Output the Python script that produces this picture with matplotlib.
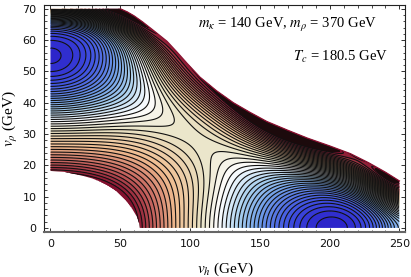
import numpy as np
import matplotlib
matplotlib.use("Agg")
import matplotlib.pyplot as plt
from matplotlib.colors import LinearSegmentedColormap
from matplotlib.patches import Polygon
from matplotlib.path import Path
from matplotlib.ticker import MultipleLocator

# Field values: contour-level index at each node (counted rings)
vh_nodes = [0, 25, 50, 75, 87.5, 100, 112.5, 125, 150, 175, 200, 225, 250]
vr_nodes = [0, 5, 10, 15, 20, 25, 30, 35, 40, 45, 50, 55, 60, 65, 70]
level_table = [
    [75, 62, 47, 38.8, 32.5, 28.5, 24, 20, 12, 3.7, 0, 3.8, 13.5],
    [65, 57, 45, 38, 32.3, 28.4, 24.1, 20.8, 13, 5.5, 2, 5.3, 20],
    [55, 50, 41.5, 37, 32, 28.2, 24.3, 22, 15, 9.5, 8, 13.5, 32],
    [47, 43.5, 39, 35, 31.5, 27.8, 24.6, 23, 18, 15, 15, 28, 42],
    [39.5, 38.5, 35.5, 32.5, 30.2, 27.3, 25, 24, 21, 24, 32, 40, 85],
    [33, 32.5, 31, 29.5, 28.3, 26.8, 25.9, 25.2, 26, 36, 42, 85, 110],
    [27.3, 27.3, 27.2, 26.2, 26.3, 26.6, 27.2, 27.1, 38, 60, 85, 110, 135],
    [21, 21, 23, 23.6, 25, 27.2, 30, 33, 62, 85, 110, 135, 160],
    [13, 13.5, 17.5, 22, 26, 30.5, 38, 39, 85, 110, 135, 160, 185],
    [6.5, 8.5, 13.5, 23.5, 31, 36, 41, 68, 105, 130, 155, 180, 205],
    [2.3, 5.5, 13, 27, 36, 41, 75, 90, 125, 150, 175, 200, 225],
    [0, 4.3, 12.5, 33, 37, 75, 95, 110, 145, 170, 195, 220, 245],
    [2.3, 6.5, 16, 38, 72, 95, 115, 130, 165, 190, 215, 240, 265],
    [9, 13, 33, 75, 95, 115, 135, 150, 185, 210, 235, 260, 285],
    [32, 38, 42, 100, 120, 135, 155, 170, 205, 230, 255, 280, 305],
]
# Edges of the coloured region
lower_vh = [0, 10, 23.5, 30, 35, 40, 43, 47, 50, 53, 55, 58, 60, 62, 63.5, 64]
lower_vr = [18.2, 17.9, 16.6, 15.8, 14.9, 13.8, 13, 11.8, 10.5, 9.2, 8.3, 6.5, 5, 3.5, 1.5, 0]
upper_vh = [250, 240, 228, 215, 200, 184, 170, 155, 143, 131, 119, 107, 98, 91, 83.5, 74, 66, 60, 55, 50, 0]
upper_vr = [15, 17.8, 20.8, 23.7, 26.2, 28.7, 31.2, 34, 36.9, 40, 43.8, 48.2, 52.5, 56, 59.6, 63, 65.8, 67.7, 69, 70, 70]
vmax_level = 42.5
level_colors = [(0, "#2a20c8"), (5, "#3f50e0"), (12, "#6f9ee8"), (17, "#a9d0ee"), (22, "#ffffff"),
                (26, "#e8e2c4"), (32, "#f0bc90"), (38, "#c05a58"), (42.5, "#82102e")]

plt.rcParams["mathtext.fontset"] = "stix"
fig = plt.figure(figsize=(4.11, 2.77), dpi=100)
ax = fig.add_axes([43.5 / 411, 1 - 232 / 277, (405 - 43.5) / 411, (232 - 5) / 277])

poly = list(zip(lower_vh, lower_vr)) + [(250, 0)] + list(zip(upper_vh, upper_vr))
xn, yn = np.meshgrid(vh_nodes, vr_nodes)
inside = Path(poly).contains_points(np.column_stack([xn.ravel(), yn.ravel()]), radius=0.01)
table = np.array(level_table, float)
edge_x = np.array(lower_vh + upper_vh[:-1], float)
edge_y = np.array(lower_vr + upper_vr[:-1], float)
px = np.concatenate([xn.ravel()[inside], edge_x])
py = np.concatenate([yn.ravel()[inside], edge_y])
pz = np.concatenate([table.ravel()[inside], np.full(edge_x.size, vmax_level)])
weight = np.where(pz < 5, 4.0, 1.0) * np.where((px >= 225) & (pz < 40), 3.0, 1.0)


def basis(x, y, order=7):
    u, v = (np.asarray(x) / 250.0) ** 2, (np.asarray(y) / 70.0) ** 2
    return np.stack([u ** i * v ** j for i in range(order + 1) for j in range(order + 1 - i)], axis=-1)


# smooth even surface through the values
coef, *_ = np.linalg.lstsq(basis(px, py) * weight[:, None], pz * weight, rcond=None)
xf, yf = np.meshgrid(np.linspace(0, 250, 751), np.linspace(0, 70, 421))
Z = np.clip(basis(xf, yf) @ coef, -2, 90)

cmap = LinearSegmentedColormap.from_list("v", [(p / vmax_level, c) for p, c in level_colors])
clip = Polygon(poly, closed=True, transform=ax.transData, fc="none", ec="none", lw=0, zorder=4)
ax.add_patch(clip)
# dense upper-right rim: lines keep going up to the edge and read as near-black
rim = Polygon(list(zip(upper_vh, upper_vr)) + [(0, 62), (50, 60), (150, 20), (250, 3)], closed=True,
              transform=ax.transData, fc="none", ec="none")
ax.add_patch(rim)

cf = ax.contourf(xf, yf, Z, levels=np.arange(-2, 91), cmap=cmap, vmin=0, vmax=vmax_level, antialiased=False)
cf.set_clip_path(clip)
dark = ax.contourf(xf, yf, Z, levels=[vmax_level, 91], colors=["#1c0a0c"], antialiased=False)
dark.set_clip_path(rim)
cl = ax.contour(xf, yf, Z, levels=np.arange(1, 43), colors="#111111", linewidths=0.8)
cl.set_clip_path(clip)
ax.plot(upper_vh[:-1], upper_vr[:-1], color="#8a1030", lw=0.9, zorder=5)

ax.set_xlim(-5, 254)
ax.set_ylim(-1.3, 71.2)
ax.xaxis.set_major_locator(MultipleLocator(50))
ax.xaxis.set_minor_locator(MultipleLocator(10))
ax.yaxis.set_major_locator(MultipleLocator(10))
ax.yaxis.set_minor_locator(MultipleLocator(2))
ax.tick_params(which="major", direction="in", length=3.2, width=0.6, top=True, right=True,
               labelsize=8, pad=5, colors="#111111")
ax.tick_params(which="minor", direction="in", length=1.8, width=0.5, top=True, right=True)
for s in ax.spines.values():
    s.set_linewidth(0.8)
    s.set_color("#222222")
ax.spines["bottom"].set_linewidth(1.5)
ax.spines["bottom"].set_color("#666666")

sf = {"family": "Liberation Serif"}
fig.text(225 / 411, 1 - 269 / 277, r"$v_h$ (GeV)", ha="center", va="center", fontsize=11, **sf)
fig.text(11 / 411, 1 - 118 / 277, r"$v_\rho$ (GeV)", rotation=90, ha="center", va="center", fontsize=11, **sf)
fig.text(377 / 411, 1 - 25 / 277, r"$m_\kappa$ = 140 GeV, $m_\rho$ = 370 GeV", ha="right", va="center", fontsize=10.5, **sf)
fig.text(388 / 411, 1 - 57 / 277, r"$T_c$ = 180.5 GeV", ha="right", va="center", fontsize=10.5, **sf)
fig.savefig("out.png", dpi=100)
